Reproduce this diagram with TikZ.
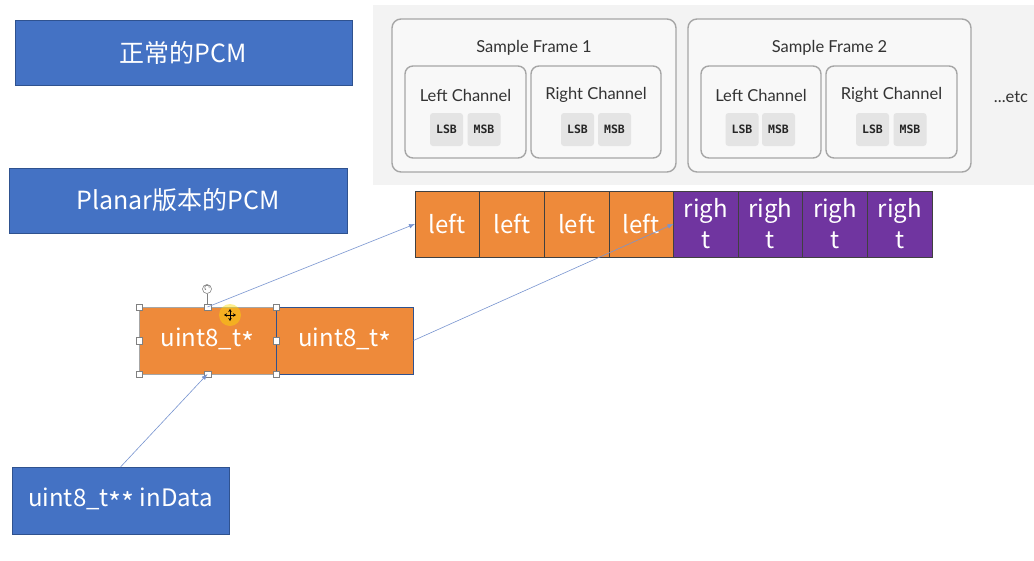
\documentclass[tikz,border=0pt]{standalone}
\usepackage{fontspec}
\setmainfont{Lato}
\newfontfamily\cjk{Noto Sans CJK SC}
\newfontfamily\monob{DejaVu Sans Mono}
\newcommand{\st}{\raisebox{-0.28em}{\scalebox{1.15}{*}}}
\usetikzlibrary{arrows.meta}
\definecolor{pblue}{HTML}{4472C4}
\definecolor{pbluedark}{HTML}{2F528F}
\definecolor{porange}{HTML}{EE8A3A}
\definecolor{ppurple}{HTML}{7035A0}
\definecolor{panelgray}{HTML}{F3F3F3}
\definecolor{framegray}{HTML}{A6A6A6}
\definecolor{chipgray}{HTML}{E4E4E4}
\definecolor{connblue}{HTML}{7894D0}
\tikzset{
  bluebox/.style={rectangle, fill=pblue, draw=pbluedark, line width=0.8pt, inner sep=0pt, outer sep=0pt, text=white, font=\cjk\fontsize{25}{28}\selectfont},
  cellbox/.style={rectangle, draw=black!75, line width=0.6pt, inner sep=0pt, outer sep=0pt, minimum width=64.6pt, minimum height=66pt, text=white, align=center, font=\cjk\fontsize{24}{31}\selectfont},
  ubox/.style={rectangle, fill=porange, line width=0.8pt, inner sep=0pt, outer sep=0pt, minimum width=137pt, minimum height=67pt, text=white, font=\cjk\fontsize{24}{28}\selectfont},
  framebox/.style={rectangle, rounded corners=9pt, draw=framegray, line width=1.4pt, fill=panelgray!60!white, inner sep=0pt},
  chanbox/.style={rectangle, rounded corners=8pt, draw=framegray, line width=1.4pt, fill=panelgray!60!white, inner sep=0pt, minimum height=92pt},
  chip/.style={rectangle, rounded corners=3pt, fill=chipgray, inner sep=0pt, minimum width=33pt, minimum height=33pt, font=\monob\bfseries\fontsize{11.5}{13}\selectfont, text=black!85},
  lbl/.style={font=\fontsize{16.5}{19}\selectfont, text=black!80, inner sep=0pt},
  conn/.style={draw=connblue, line width=0.6pt, -{Latex[length=6pt,width=4.5pt]}},
  handle/.style={draw=black!50, fill=white, line width=0.5pt, minimum size=6.5pt, inner sep=0pt, rectangle}
}
\begin{document}
\begin{tikzpicture}[x=1pt,y=-1pt]
\useasboundingbox (0,0) rectangle (1034,560);
\fill[white] (0,0) rectangle (1034,560);
% grey panel
\fill[panelgray] (373,5) rectangle (1034,185);
% frames
\node[framebox, minimum width=284pt, minimum height=153pt] (f1) at (534,95.5) {};
\node[framebox, minimum width=283pt, minimum height=153pt] (f2) at (829.5,95.5) {};
\node[lbl] (f1t) at (534,48) {Sample Frame 1};
\node[lbl] (f2t) at (829.5,48) {Sample Frame 2};
\node[chanbox, minimum width=121pt] (l1) at (465.5,112) {};
\node[chanbox, minimum width=130pt] (r1) at (596,112) {};
\node[chanbox, minimum width=120pt] (l2) at (761,112) {};
\node[chanbox, minimum width=131pt] (r2) at (891.5,112) {};
\node[lbl] (l1t) at (465.5,95) {Left Channel};
\node[lbl] (r1t) at (596,95) {Right Channel};
\node[lbl] (l2t) at (761,95) {Left Channel};
\node[lbl] (r2t) at (891.5,95) {Right Channel};
\node[chip] (a1) at (446.5,129.5) {LSB};
\node[chip] (b1) at (484,129.5) {MSB};
\node[chip] (a2) at (577.5,129.5) {LSB};
\node[chip] (b2) at (614.5,129.5) {MSB};
\node[chip] (a3) at (742,129.5) {LSB};
\node[chip] (b3) at (778.5,129.5) {MSB};
\node[chip] (a4) at (872.5,129.5) {LSB};
\node[chip] (b4) at (910,129.5) {MSB};
\node[lbl] (etc) at (1011,97) {...etc};
% blue title boxes
\node[bluebox, minimum width=337pt, minimum height=65pt] (t1) at (183.5,52.5) {正常的PCM};
\node[bluebox, minimum width=338pt, minimum height=65pt] (t2) at (178,200.5) {Planar版本的PCM};
% planar strip
\foreach \i in {1,2,3,4}{
  \node[cellbox, fill=porange] (c\i) at ({415+64.625*(\i-0.5)},224) {left};
}
\foreach \i in {5,6,7,8}{
  \node[cellbox, fill=ppurple] (c\i) at ({415+64.625*(\i-0.5)},224) {righ\\t};
}
% uint8 boxes
\node[ubox, draw=black!35] (u1) at (207.5,340.5) {uint8\_t\st};
\node[ubox, draw=pbluedark] (u2) at (345,340.5) {uint8\_t\st};
\node[bluebox, minimum width=217pt, minimum height=67pt, font=\cjk\fontsize{24}{28}\selectfont] (ind) at (120.5,500.5) {uint8\_t\st\st{} inData};
% selection handles
\draw[black!50, line width=0.5pt] (u1.north) -- ++(0,-13);
\node[circle, draw=black!55, fill=white, line width=0.5pt, minimum size=9pt, inner sep=0pt] (rot) at (207,289) {};
\draw[black!60, line width=0.5pt, -{Stealth[length=1.6pt]}] (rot.center) ++(2.2,-0.8) arc[start angle=-20, end angle=250, radius=2.3pt];
\foreach \a in {north west,north,north east,west,east,south west,south,south east}{
  \node[handle] at (u1.\a) {};
}
% cursor
\fill[yellow!80!orange, opacity=0.45] (230,315) circle[radius=11];
\foreach \ang in {0,90,180,270}{
  \draw[black, line width=0.7pt, -{Stealth[length=3pt,width=3.5pt]}] (230,315) -- ++(\ang:6);
}
% connectors
\draw[conn] (u1.north) -- (c1.west);
\draw[conn] (u2.east) -- (c5.west);
\draw[conn] (ind.north) -- (u1.south);
\end{tikzpicture}
\end{document}
